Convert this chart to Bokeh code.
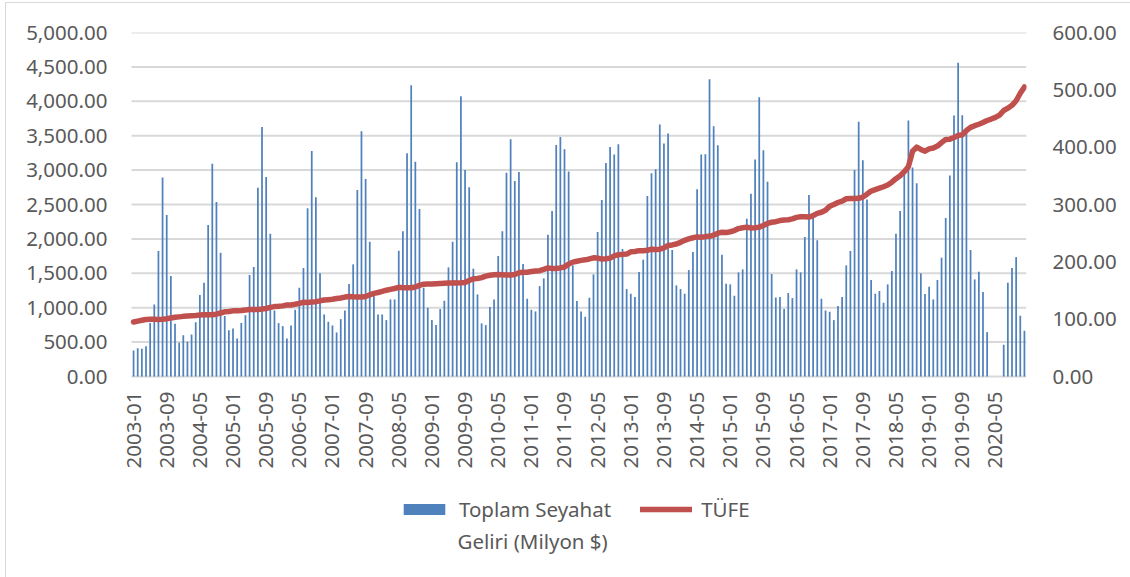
import math
from bokeh.plotting import figure
from bokeh.models import (Range1d, LinearAxis, FixedTicker, NumeralTickFormatter,
                          Legend, LegendItem, ColumnDataSource, Label)
from bokeh.embed import file_html
from bokeh.resources import INLINE

# ---- data -------------------------------------------------------------
years = list(range(2003, 2021))
months = [f"{y}-{m:02d}" for y in years for m in range(1, 13)]

# Toplam Seyahat Geliri (Milyon $), monthly
seyahat_2003 = [378, 412, 403, 441, 776, 1048, 1824, 2891, 2347, 1460, 766, 490]
seyahat_2004 = [601, 504, 611, 790, 1183, 1363, 2202, 3094, 2537, 1799, 878, 674]
seyahat_2005 = [698, 553, 776, 892, 1474, 1591, 2745, 3628, 2900, 2076, 960, 776]
seyahat_2006 = [732, 553, 742, 970, 1290, 1576, 2444, 3279, 2604, 1499, 902, 795]
seyahat_2007 = [742, 640, 834, 960, 1343, 1630, 2711, 3565, 2871, 1959, 1169, 902]
seyahat_2008 = [902, 820, 1120, 1120, 1828, 2110, 3245, 4234, 3123, 2435, 1290, 999]
seyahat_2009 = [820, 747, 980, 1101, 1586, 1959, 3114, 4074, 3002, 2750, 1567, 1193]
seyahat_2010 = [771, 747, 1009, 1120, 1751, 2110, 2963, 3448, 2842, 2973, 1634, 1130]
seyahat_2011 = [970, 946, 1314, 1426, 2061, 2406, 3366, 3482, 3303, 2978, 1615, 1096]
seyahat_2012 = [946, 868, 1145, 1484, 2100, 2566, 3104, 3337, 3225, 3376, 1853, 1271]
seyahat_2013 = [1203, 1154, 1518, 1698, 2624, 2954, 3012, 3662, 3385, 3531, 1838, 1324]
seyahat_2014 = [1271, 1203, 1547, 1809, 2721, 3225, 3230, 4321, 3638, 3361, 1770, 1348]
seyahat_2015 = [1339, 1174, 1513, 1557, 2294, 2658, 3153, 4059, 3288, 2832, 1489, 1149]
seyahat_2016 = [1154, 980, 1213, 1140, 1557, 1513, 2027, 2638, 2304, 1979, 1130, 960]
seyahat_2017 = [941, 820, 1023, 1154, 1615, 1824, 3002, 3701, 3143, 2571, 1402, 1203]
seyahat_2018 = [1242, 1072, 1339, 1533, 2076, 2406, 2963, 3720, 3036, 2808, 1499, 1198]
seyahat_2019 = [1305, 1120, 1402, 1727, 2304, 2920, 3793, 4559, 3798, 3570, 1838, 1411]
seyahat_2020 = [1523, 1227, 645, 0, 0, 0, 461, 1363, 1576, 1736, 883, 664]

# TÜFE, monthly
tufe_2003 = [95.0, 96.5, 98.0, 99.3, 99.8, 99.8, 99.6, 99.9, 100.8, 102.0, 103.2, 104.0]
tufe_2004 = [104.9, 105.5, 106.0, 106.5, 107.2, 107.5, 107.5, 107.8, 108.6, 110.8, 112.8, 113.3]
tufe_2005 = [114.5, 114.7, 115.0, 115.9, 116.7, 116.8, 116.8, 117.6, 118.6, 120.5, 121.9, 122.4]
tufe_2006 = [123.2, 124.6, 124.8, 126.0, 127.6, 129.5, 129.2, 129.9, 130.5, 132.0, 133.3, 134.0]
tufe_2007 = [134.8, 136.0, 137.0, 138.5, 139.5, 139.0, 138.7, 138.8, 139.5, 142.5, 145.0, 146.5]
tufe_2008 = [148.5, 150.5, 152.0, 153.5, 155.5, 155.0, 155.0, 154.8, 156.0, 159.0, 161.0, 161.5]
tufe_2009 = [161.2, 161.6, 162.0, 162.5, 163.0, 163.3, 163.2, 163.5, 164.0, 167.5, 170.5, 171.0]
tufe_2010 = [172.5, 175.0, 176.5, 177.5, 177.8, 177.3, 176.9, 177.0, 178.0, 181.0, 181.8, 182.0]
tufe_2011 = [183.0, 184.0, 184.5, 187.0, 189.5, 188.5, 188.5, 189.5, 191.0, 196.0, 199.5, 201.0]
tufe_2012 = [202.5, 203.5, 205.0, 207.0, 206.5, 205.0, 205.5, 206.5, 210.5, 212.5, 213.0, 213.5]
tufe_2013 = [217.5, 218.0, 219.5, 219.5, 220.0, 222.0, 221.5, 222.0, 224.5, 228.5, 229.5, 231.0]
tufe_2014 = [234.0, 237.5, 240.0, 242.0, 243.5, 243.0, 244.0, 244.5, 246.5, 250.0, 251.5, 251.0]
tufe_2015 = [252.5, 254.5, 258.0, 259.5, 260.5, 259.0, 259.5, 260.5, 263.5, 267.0, 269.0, 270.0]
tufe_2016 = [272.0, 273.0, 273.5, 275.0, 277.5, 278.5, 278.5, 278.0, 280.5, 284.5, 286.5, 290.0]
tufe_2017 = [297.0, 300.0, 303.5, 306.0, 310.0, 310.5, 310.5, 310.8, 313.0, 318.0, 323.5, 326.0]
tufe_2018 = [328.5, 331.0, 334.0, 339.0, 345.0, 350.0, 357.0, 366.0, 393.0, 400.0, 396.0, 393.0]
tufe_2019 = [397.0, 398.5, 402.0, 408.0, 413.5, 414.0, 417.0, 420.5, 421.5, 429.0, 434.5, 437.5]
tufe_2020 = [440.0, 443.0, 446.5, 449.0, 452.0, 456.0, 464.0, 468.0, 473.0, 481.0, 494.0, 505.0]

seyahat = (seyahat_2003 + seyahat_2004 + seyahat_2005 + seyahat_2006 + seyahat_2007 +
           seyahat_2008 + seyahat_2009 + seyahat_2010 + seyahat_2011 + seyahat_2012 +
           seyahat_2013 + seyahat_2014 + seyahat_2015 + seyahat_2016 + seyahat_2017 +
           seyahat_2018 + seyahat_2019 + seyahat_2020)
tufe = (tufe_2003 + tufe_2004 + tufe_2005 + tufe_2006 + tufe_2007 + tufe_2008 +
        tufe_2009 + tufe_2010 + tufe_2011 + tufe_2012 + tufe_2013 + tufe_2014 +
        tufe_2015 + tufe_2016 + tufe_2017 + tufe_2018 + tufe_2019 + tufe_2020)

left_ticks = [0, 500, 1000, 1500, 2000, 2500, 3000, 3500, 4000, 4500, 5000]
right_ticks = [0, 100, 200, 300, 400, 500, 600]
label_idx = list(range(0, len(months), 8))

series_label_1 = ["Toplam Seyahat", "Geliri (Milyon $)"]
series_label_2 = "TÜFE"

# ---- layout constants (pixels) ----------------------------------------
FONT = "Noto Sans"
FS = "20.5px"
TXT = "#595959"
GRID = "#D9D9D9"
PLOT_W = 895          # width of the bar/line area
PLOT_H = 344          # height of the bar/line area
PAD_L = 11            # extra frame room on the left for the first x label
FRAME_H = 541         # frame extends below the x axis to hold the legend
LEFT_MAX, RIGHT_MAX = 5000, 600
n = len(months)
x_lo, x_hi = -0.5, n - 0.5
px_per_month = PLOT_W / n
below = (FRAME_H - PLOT_H) / PLOT_H

src = ColumnDataSource(dict(x=list(range(n)), seyahat=seyahat, tufe=tufe))

p = figure(frame_width=PLOT_W + PAD_L, frame_height=FRAME_H, output_backend="svg",
           toolbar_location=None,
           x_range=Range1d(x_lo - PAD_L / px_per_month, x_hi),
           y_range=Range1d(-below * LEFT_MAX, LEFT_MAX),
           min_border_left=131 - PAD_L, min_border_right=104, min_border_top=32,
           min_border_bottom=4)
p.extra_y_ranges = {"tufe": Range1d(-below * RIGHT_MAX, RIGHT_MAX)}
p.outline_line_color = None
p.background_fill_color = "white"
p.border_fill_alpha = 0
p.styles = {
    "background-color": "white",
    "background-image": "linear-gradient(#D9D9D9, #D9D9D9), linear-gradient(#D9D9D9, #D9D9D9)",
    "background-size": "1px 100%, 100% 1px",
    "background-position": "5px 2px, 5px 2px",
    "background-repeat": "no-repeat",
}

# horizontal gridlines across the plot area only (the 0 line is the x axis line)
p.segment(x0=[x_lo] * len(left_ticks), x1=[x_hi] * len(left_ticks),
          y0=left_ticks, y1=left_ticks, line_color=GRID, line_width=2, level="underlay")

bars = p.vbar(x="x", top="seyahat", width=0.42, source=src,
              fill_color="#4F81BD", line_color=None)
line = p.line(x="x", y="tufe", source=src, y_range_name="tufe",
              line_color="#C0504D", line_width=5.5, line_join="round", line_cap="round")

# left axis
ya = p.yaxis[0]
ya.ticker = FixedTicker(ticks=left_ticks)
ya.formatter = NumeralTickFormatter(format="0,0.00")
ya.axis_line_color = None
ya.major_tick_line_color = None
ya.minor_tick_line_color = None
ya.major_label_standoff = 18 - PAD_L
ya.major_label_text_font = FONT
ya.major_label_text_font_size = FS
ya.major_label_text_color = TXT

# right axis
ra = LinearAxis(y_range_name="tufe", ticker=FixedTicker(ticks=right_ticks),
                formatter=NumeralTickFormatter(format="0,0.00"))
ra.axis_line_color = None
ra.major_tick_line_color = None
ra.minor_tick_line_color = None
ra.major_label_standoff = 20
ra.major_label_text_font = FONT
ra.major_label_text_font_size = FS
ra.major_label_text_color = TXT
p.add_layout(ra, "right")

# bottom axis, pinned at value 0
xa = p.xaxis[0]
xa.fixed_location = 0
xa.ticker = FixedTicker(ticks=label_idx)
xa.major_label_overrides = {i: months[i] for i in label_idx}
xa.major_label_orientation = math.pi / 2
xa.axis_line_color = None
xa.major_tick_line_color = None
xa.minor_tick_line_color = None
xa.major_label_standoff = 9
xa.major_label_text_font = FONT
xa.major_label_text_font_size = FS
xa.major_label_text_color = TXT

p.xgrid.visible = False
p.ygrid.visible = False

legend = Legend(items=[LegendItem(label=series_label_1[0], renderers=[bars]),
                       LegendItem(label=series_label_2, renderers=[line])],
                orientation="horizontal", location=(398 - 120, 50),
                glyph_width=52, glyph_height=14, label_standoff=9, spacing=29,
                label_text_font=FONT, label_text_font_size=FS,
                label_text_color=TXT, border_line_color=None,
                background_fill_alpha=0, padding=0, margin=0)
p.add_layout(legend)

# second line of the first legend entry
p.add_layout(Label(x=457 - 120, y=33, x_units="screen", y_units="screen",
                   text=series_label_1[1], text_font=FONT,
                   text_font_size=FS, text_color=TXT, text_baseline="alphabetic"))

open("out.html", "w").write(file_html(p, INLINE))
